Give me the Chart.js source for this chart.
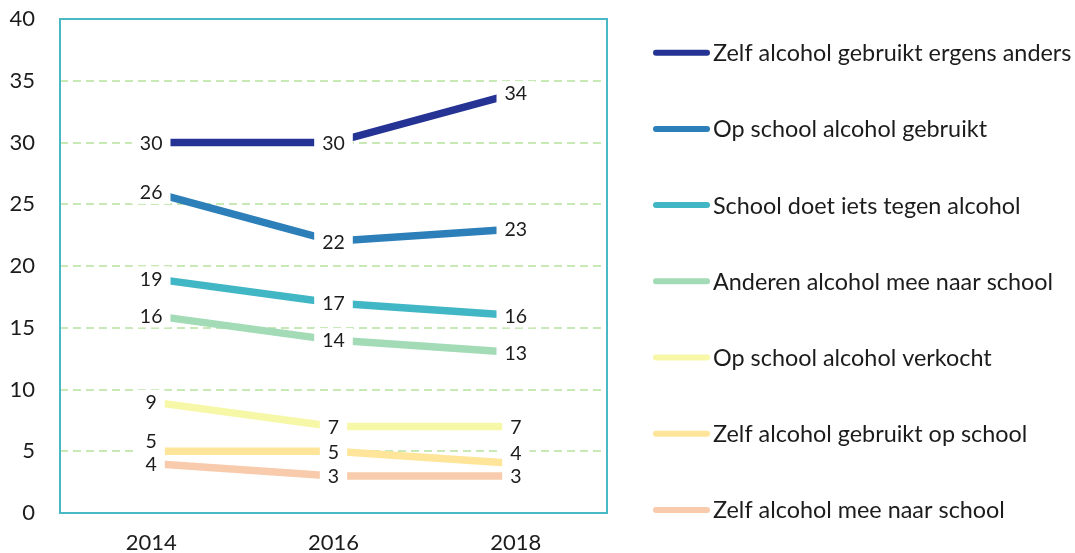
<!DOCTYPE html>
<html>
<head>
<meta charset="utf-8">
<script src="https://cdn.jsdelivr.net/npm/chart.js@4.4.1/dist/chart.umd.min.js"></script>
<style>
  body { margin: 0; background: #fff; }
</style>
</head>
<body>
<canvas id="chart" width="1075" height="553"></canvas>
<script>
const years = ['2014', '2016', '2018'];

const seriesNames = [
  'Zelf alcohol gebruikt ergens anders',
  'Op school alcohol gebruikt',
  'School doet iets tegen alcohol',
  'Anderen alcohol mee naar school',
  'Op school alcohol verkocht',
  'Zelf alcohol gebruikt op school',
  'Zelf alcohol mee naar school'
];

const zelfErgensAnders = [30, 30, 34];
const opSchoolGebruikt = [26, 22, 23];
const schoolDoetIets = [19, 17, 16];
const anderenMeeNaarSchool = [16, 14, 13];
const opSchoolVerkocht = [9, 7, 7];
const zelfGebruiktOpSchool = [5, 5, 4];
const zelfMeeNaarSchool = [4, 3, 3];

const yTicks = [0, 5, 10, 15, 20, 25, 30, 35, 40];

const seriesValues = [
  zelfErgensAnders, opSchoolGebruikt, schoolDoetIets, anderenMeeNaarSchool,
  opSchoolVerkocht, zelfGebruiktOpSchool, zelfMeeNaarSchool
];
const colors = ['#253494', '#2c7fb8', '#41b6c4', '#a2dbb6', '#f6f8a8', '#fee59a', '#f8cbac'];

const FONT = 'Lato, "Open Sans", sans-serif';
const TEXT = '#1c1c1c';

// frame round the plot area
const frame = {
  id: 'frame',
  beforeDatasetsDraw(chart) {
    const { ctx, chartArea: a } = chart;
    ctx.save();
    ctx.strokeStyle = '#4bb8c6';
    ctx.lineWidth = 2;
    ctx.strokeRect(a.left, a.top, a.right - a.left, a.bottom - a.top);
    ctx.restore();
  }
};

// value labels with a white box, nudged up when two labels collide
const valueLabels = {
  id: 'valueLabels',
  afterDatasetsDraw(chart) {
    const { ctx } = chart;
    const n = chart.data.datasets.length;
    ctx.save();
    ctx.font = '19.5px ' + FONT;
    ctx.textAlign = 'center';
    ctx.textBaseline = 'middle';
    years.forEach((_, j) => {
      const pos = [];
      for (let i = 0; i < n; i++) {
        const pt = chart.getDatasetMeta(i).data[j];
        pos.push({ x: pt.x, y: pt.y });
      }
      for (let i = n - 2; i >= 0; i--) {
        const gap = pos[i + 1].y - pos[i].y;
        if (gap >= 0 && gap < 20) pos[i].y = pos[i + 1].y - 23;
      }
      for (let i = 0; i < n; i++) {
        const txt = String(Math.round(chart.data.datasets[i].data[j]));
        const w = ctx.measureText(txt).width + 16;
        ctx.fillStyle = '#fff';
        ctx.fillRect(pos[i].x - w / 2, pos[i].y - 12, w, 24);
        ctx.fillStyle = TEXT;
        ctx.fillText(txt, pos[i].x, pos[i].y + 1);
      }
    });
    ctx.restore();
  }
};

// legend on the right
const sideLegend = {
  id: 'sideLegend',
  afterDraw(chart) {
    const { ctx } = chart;
    ctx.save();
    ctx.font = '23.4px ' + FONT;
    ctx.textBaseline = 'middle';
    ctx.textAlign = 'left';
    chart.data.datasets.forEach((ds, i) => {
      const y = 52.7 + i * 76.2;
      ctx.strokeStyle = ds.borderColor;
      ctx.lineWidth = 6;
      ctx.lineCap = 'round';
      ctx.beginPath();
      ctx.moveTo(656, y);
      ctx.lineTo(707, y);
      ctx.stroke();
      ctx.fillStyle = TEXT;
      ctx.fillText(ds.label, 713, y + 1);
    });
    ctx.restore();
  }
};

new Chart(document.getElementById('chart'), {
  type: 'line',
  data: {
    labels: years,
    datasets: seriesValues.map((vals, i) => ({
      label: seriesNames[i],
      data: vals,
      borderColor: colors[i],
      backgroundColor: colors[i],
      borderWidth: 7.5,
      borderCapStyle: 'butt',
      pointRadius: 0,
      tension: 0,
      fill: false
    }))
  },
  options: {
    responsive: false,
    animation: false,
    layout: { padding: { top: 19, right: 468, left: 0, bottom: 0 } },
    plugins: {
      legend: { display: false },
      tooltip: { enabled: false }
    },
    scales: {
      x: {
        offset: true,
        grid: { display: false },
        border: { display: false },
        ticks: { color: TEXT, font: { family: FONT, size: 22 }, padding: 9 },
        afterFit: (scale) => { scale.height = 40; }
      },
      y: {
        min: 0,
        max: 40,
        afterBuildTicks: (scale) => { scale.ticks = yTicks.map(v => ({ value: v })); },
        grid: {
          drawTicks: false,
          lineWidth: 2,
          color: (c) => (c.tick && (c.tick.value === 0 || c.tick.value === 40)) ? 'rgba(0,0,0,0)' : '#c8e8b6'
        },
        border: { display: false, dash: [8, 5] },
        ticks: { color: TEXT, font: { family: FONT, size: 22 }, padding: 25 },
        afterFit: (scale) => {
          scale.width = 60;
          scale.paddingTop = 0;
          scale.paddingBottom = 0;
        }
      }
    }
  },
  plugins: [frame, valueLabels, sideLegend]
});
</script>
</body>
</html>
